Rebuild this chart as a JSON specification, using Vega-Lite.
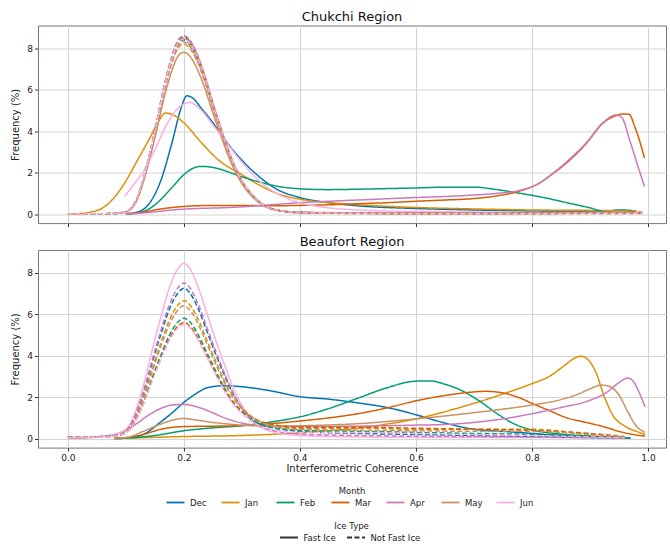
{
"$schema": "https://vega.github.io/schema/vega-lite/v6.json",
"background": "white",
"padding": {"left": 10, "right": 0, "top": 10.5, "bottom": 0},
"config": {
  "font": "DejaVu Sans",
  "view": {"stroke": "#777777", "strokeWidth": 1},
  "axis": {"grid": true, "gridColor": "#d4d4d4", "gridWidth": 1, "domain": false, "tickColor": "#333333", "tickSize": 3.5, "labelFontSize": 9, "labelColor": "#222222", "titleFontSize": 10, "titleFontWeight": "normal", "titleColor": "#222222", "labelPadding": 2},
  "title": {"fontSize": 13, "fontWeight": "normal", "offset": 1.5, "color": "#111111"},
  "concat": {"spacing": 6.5},
  "legend": {"orient": "bottom", "direction": "horizontal", "titleAnchor": "middle", "titleOrient": "top", "titleFontSize": 8.5, "titleFontWeight": "normal", "titleColor": "#222222", "labelFontSize": 8.5, "labelColor": "#222222", "symbolStrokeWidth": 1.8, "symbolType": "M-2,0L2,0", "symbolSize": 81, "labelOffset": 9, "offset": 12, "titlePadding": 2,
    "layout": {"bottom": {"anchor": "middle", "direction": "vertical", "center": true, "margin": 14}}}
},
"data": {"values": [
{"region":"Chukchi","month":"Dec","ice":"Fast Ice","coh":0.1,"freq":0.02},{"region":"Chukchi","month":"Dec","ice":"Fast Ice","coh":0.12,"freq":0.1},{"region":"Chukchi","month":"Dec","ice":"Fast Ice","coh":0.14,"freq":0.5},{"region":"Chukchi","month":"Dec","ice":"Fast Ice","coh":0.16,"freq":1.6},{"region":"Chukchi","month":"Dec","ice":"Fast Ice","coh":0.18,"freq":3.5},{"region":"Chukchi","month":"Dec","ice":"Fast Ice","coh":0.195,"freq":5.1},{"region":"Chukchi","month":"Dec","ice":"Fast Ice","coh":0.205,"freq":5.7},{"region":"Chukchi","month":"Dec","ice":"Fast Ice","coh":0.215,"freq":5.6},{"region":"Chukchi","month":"Dec","ice":"Fast Ice","coh":0.23,"freq":5.1},{"region":"Chukchi","month":"Dec","ice":"Fast Ice","coh":0.25,"freq":4.4},{"region":"Chukchi","month":"Dec","ice":"Fast Ice","coh":0.27,"freq":3.6},{"region":"Chukchi","month":"Dec","ice":"Fast Ice","coh":0.3,"freq":2.6},{"region":"Chukchi","month":"Dec","ice":"Fast Ice","coh":0.33,"freq":1.8},{"region":"Chukchi","month":"Dec","ice":"Fast Ice","coh":0.36,"freq":1.2},{"region":"Chukchi","month":"Dec","ice":"Fast Ice","coh":0.4,"freq":0.8},{"region":"Chukchi","month":"Dec","ice":"Fast Ice","coh":0.45,"freq":0.55},{"region":"Chukchi","month":"Dec","ice":"Fast Ice","coh":0.5,"freq":0.4},{"region":"Chukchi","month":"Dec","ice":"Fast Ice","coh":0.6,"freq":0.27},{"region":"Chukchi","month":"Dec","ice":"Fast Ice","coh":0.7,"freq":0.2},{"region":"Chukchi","month":"Dec","ice":"Fast Ice","coh":0.8,"freq":0.15},{"region":"Chukchi","month":"Dec","ice":"Fast Ice","coh":0.9,"freq":0.12},{"region":"Chukchi","month":"Dec","ice":"Fast Ice","coh":0.93,"freq":0.15},{"region":"Chukchi","month":"Dec","ice":"Fast Ice","coh":0.95,"freq":0.2},{"region":"Chukchi","month":"Dec","ice":"Fast Ice","coh":0.97,"freq":0.18},{"region":"Chukchi","month":"Dec","ice":"Fast Ice","coh":0.98,"freq":0.12},
{"region":"Chukchi","month":"Jan","ice":"Fast Ice","coh":0,"freq":0},{"region":"Chukchi","month":"Jan","ice":"Fast Ice","coh":0.02,"freq":0.03},{"region":"Chukchi","month":"Jan","ice":"Fast Ice","coh":0.04,"freq":0.1},{"region":"Chukchi","month":"Jan","ice":"Fast Ice","coh":0.06,"freq":0.3},{"region":"Chukchi","month":"Jan","ice":"Fast Ice","coh":0.08,"freq":0.8},{"region":"Chukchi","month":"Jan","ice":"Fast Ice","coh":0.1,"freq":1.6},{"region":"Chukchi","month":"Jan","ice":"Fast Ice","coh":0.12,"freq":2.6},{"region":"Chukchi","month":"Jan","ice":"Fast Ice","coh":0.14,"freq":3.6},{"region":"Chukchi","month":"Jan","ice":"Fast Ice","coh":0.155,"freq":4.4},{"region":"Chukchi","month":"Jan","ice":"Fast Ice","coh":0.168,"freq":4.87},{"region":"Chukchi","month":"Jan","ice":"Fast Ice","coh":0.18,"freq":4.8},{"region":"Chukchi","month":"Jan","ice":"Fast Ice","coh":0.2,"freq":4.4},{"region":"Chukchi","month":"Jan","ice":"Fast Ice","coh":0.23,"freq":3.45},{"region":"Chukchi","month":"Jan","ice":"Fast Ice","coh":0.26,"freq":2.6},{"region":"Chukchi","month":"Jan","ice":"Fast Ice","coh":0.3,"freq":1.9},{"region":"Chukchi","month":"Jan","ice":"Fast Ice","coh":0.33,"freq":1.4},{"region":"Chukchi","month":"Jan","ice":"Fast Ice","coh":0.36,"freq":1.0},{"region":"Chukchi","month":"Jan","ice":"Fast Ice","coh":0.4,"freq":0.72},{"region":"Chukchi","month":"Jan","ice":"Fast Ice","coh":0.45,"freq":0.55},{"region":"Chukchi","month":"Jan","ice":"Fast Ice","coh":0.5,"freq":0.45},{"region":"Chukchi","month":"Jan","ice":"Fast Ice","coh":0.6,"freq":0.32},{"region":"Chukchi","month":"Jan","ice":"Fast Ice","coh":0.7,"freq":0.25},{"region":"Chukchi","month":"Jan","ice":"Fast Ice","coh":0.8,"freq":0.2},{"region":"Chukchi","month":"Jan","ice":"Fast Ice","coh":0.9,"freq":0.18},{"region":"Chukchi","month":"Jan","ice":"Fast Ice","coh":0.98,"freq":0.15},
{"region":"Chukchi","month":"Feb","ice":"Fast Ice","coh":0.1,"freq":0},{"region":"Chukchi","month":"Feb","ice":"Fast Ice","coh":0.12,"freq":0.05},{"region":"Chukchi","month":"Feb","ice":"Fast Ice","coh":0.14,"freq":0.25},{"region":"Chukchi","month":"Feb","ice":"Fast Ice","coh":0.16,"freq":0.7},{"region":"Chukchi","month":"Feb","ice":"Fast Ice","coh":0.18,"freq":1.3},{"region":"Chukchi","month":"Feb","ice":"Fast Ice","coh":0.2,"freq":1.9},{"region":"Chukchi","month":"Feb","ice":"Fast Ice","coh":0.215,"freq":2.2},{"region":"Chukchi","month":"Feb","ice":"Fast Ice","coh":0.23,"freq":2.3},{"region":"Chukchi","month":"Feb","ice":"Fast Ice","coh":0.25,"freq":2.25},{"region":"Chukchi","month":"Feb","ice":"Fast Ice","coh":0.28,"freq":2.0},{"region":"Chukchi","month":"Feb","ice":"Fast Ice","coh":0.3,"freq":1.8},{"region":"Chukchi","month":"Feb","ice":"Fast Ice","coh":0.33,"freq":1.55},{"region":"Chukchi","month":"Feb","ice":"Fast Ice","coh":0.36,"freq":1.35},{"region":"Chukchi","month":"Feb","ice":"Fast Ice","coh":0.4,"freq":1.22},{"region":"Chukchi","month":"Feb","ice":"Fast Ice","coh":0.45,"freq":1.18},{"region":"Chukchi","month":"Feb","ice":"Fast Ice","coh":0.5,"freq":1.2},{"region":"Chukchi","month":"Feb","ice":"Fast Ice","coh":0.55,"freq":1.23},{"region":"Chukchi","month":"Feb","ice":"Fast Ice","coh":0.6,"freq":1.26},{"region":"Chukchi","month":"Feb","ice":"Fast Ice","coh":0.65,"freq":1.3},{"region":"Chukchi","month":"Feb","ice":"Fast Ice","coh":0.7,"freq":1.3},{"region":"Chukchi","month":"Feb","ice":"Fast Ice","coh":0.74,"freq":1.18},{"region":"Chukchi","month":"Feb","ice":"Fast Ice","coh":0.78,"freq":1.0},{"region":"Chukchi","month":"Feb","ice":"Fast Ice","coh":0.82,"freq":0.8},{"region":"Chukchi","month":"Feb","ice":"Fast Ice","coh":0.86,"freq":0.55},{"region":"Chukchi","month":"Feb","ice":"Fast Ice","coh":0.9,"freq":0.3},{"region":"Chukchi","month":"Feb","ice":"Fast Ice","coh":0.92,"freq":0.15},{"region":"Chukchi","month":"Feb","ice":"Fast Ice","coh":0.94,"freq":0.1},{"region":"Chukchi","month":"Feb","ice":"Fast Ice","coh":0.97,"freq":0.1},{"region":"Chukchi","month":"Feb","ice":"Fast Ice","coh":0.98,"freq":0.08},
{"region":"Chukchi","month":"Mar","ice":"Fast Ice","coh":0.1,"freq":0.02},{"region":"Chukchi","month":"Mar","ice":"Fast Ice","coh":0.13,"freq":0.1},{"region":"Chukchi","month":"Mar","ice":"Fast Ice","coh":0.16,"freq":0.25},{"region":"Chukchi","month":"Mar","ice":"Fast Ice","coh":0.2,"freq":0.37},{"region":"Chukchi","month":"Mar","ice":"Fast Ice","coh":0.25,"freq":0.42},{"region":"Chukchi","month":"Mar","ice":"Fast Ice","coh":0.3,"freq":0.42},{"region":"Chukchi","month":"Mar","ice":"Fast Ice","coh":0.35,"freq":0.4},{"region":"Chukchi","month":"Mar","ice":"Fast Ice","coh":0.4,"freq":0.42},{"region":"Chukchi","month":"Mar","ice":"Fast Ice","coh":0.45,"freq":0.45},{"region":"Chukchi","month":"Mar","ice":"Fast Ice","coh":0.5,"freq":0.5},{"region":"Chukchi","month":"Mar","ice":"Fast Ice","coh":0.55,"freq":0.55},{"region":"Chukchi","month":"Mar","ice":"Fast Ice","coh":0.6,"freq":0.62},{"region":"Chukchi","month":"Mar","ice":"Fast Ice","coh":0.65,"freq":0.68},{"region":"Chukchi","month":"Mar","ice":"Fast Ice","coh":0.7,"freq":0.75},{"region":"Chukchi","month":"Mar","ice":"Fast Ice","coh":0.74,"freq":0.88},{"region":"Chukchi","month":"Mar","ice":"Fast Ice","coh":0.78,"freq":1.12},{"region":"Chukchi","month":"Mar","ice":"Fast Ice","coh":0.81,"freq":1.45},{"region":"Chukchi","month":"Mar","ice":"Fast Ice","coh":0.836,"freq":1.95},{"region":"Chukchi","month":"Mar","ice":"Fast Ice","coh":0.865,"freq":2.6},{"region":"Chukchi","month":"Mar","ice":"Fast Ice","coh":0.894,"freq":3.42},{"region":"Chukchi","month":"Mar","ice":"Fast Ice","coh":0.922,"freq":4.38},{"region":"Chukchi","month":"Mar","ice":"Fast Ice","coh":0.945,"freq":4.75},{"region":"Chukchi","month":"Mar","ice":"Fast Ice","coh":0.958,"freq":4.83},{"region":"Chukchi","month":"Mar","ice":"Fast Ice","coh":0.968,"freq":4.8},{"region":"Chukchi","month":"Mar","ice":"Fast Ice","coh":0.977,"freq":4.22},{"region":"Chukchi","month":"Mar","ice":"Fast Ice","coh":0.985,"freq":3.58},{"region":"Chukchi","month":"Mar","ice":"Fast Ice","coh":0.994,"freq":2.7},
{"region":"Chukchi","month":"Apr","ice":"Fast Ice","coh":0.1,"freq":0},{"region":"Chukchi","month":"Apr","ice":"Fast Ice","coh":0.14,"freq":0.08},{"region":"Chukchi","month":"Apr","ice":"Fast Ice","coh":0.18,"freq":0.2},{"region":"Chukchi","month":"Apr","ice":"Fast Ice","coh":0.22,"freq":0.27},{"region":"Chukchi","month":"Apr","ice":"Fast Ice","coh":0.26,"freq":0.3},{"region":"Chukchi","month":"Apr","ice":"Fast Ice","coh":0.3,"freq":0.35},{"region":"Chukchi","month":"Apr","ice":"Fast Ice","coh":0.35,"freq":0.45},{"region":"Chukchi","month":"Apr","ice":"Fast Ice","coh":0.4,"freq":0.55},{"region":"Chukchi","month":"Apr","ice":"Fast Ice","coh":0.45,"freq":0.62},{"region":"Chukchi","month":"Apr","ice":"Fast Ice","coh":0.5,"freq":0.68},{"region":"Chukchi","month":"Apr","ice":"Fast Ice","coh":0.55,"freq":0.74},{"region":"Chukchi","month":"Apr","ice":"Fast Ice","coh":0.6,"freq":0.8},{"region":"Chukchi","month":"Apr","ice":"Fast Ice","coh":0.65,"freq":0.85},{"region":"Chukchi","month":"Apr","ice":"Fast Ice","coh":0.7,"freq":0.92},{"region":"Chukchi","month":"Apr","ice":"Fast Ice","coh":0.74,"freq":1.0},{"region":"Chukchi","month":"Apr","ice":"Fast Ice","coh":0.78,"freq":1.15},{"region":"Chukchi","month":"Apr","ice":"Fast Ice","coh":0.81,"freq":1.45},{"region":"Chukchi","month":"Apr","ice":"Fast Ice","coh":0.836,"freq":1.97},{"region":"Chukchi","month":"Apr","ice":"Fast Ice","coh":0.865,"freq":2.65},{"region":"Chukchi","month":"Apr","ice":"Fast Ice","coh":0.894,"freq":3.45},{"region":"Chukchi","month":"Apr","ice":"Fast Ice","coh":0.922,"freq":4.4},{"region":"Chukchi","month":"Apr","ice":"Fast Ice","coh":0.945,"freq":4.78},{"region":"Chukchi","month":"Apr","ice":"Fast Ice","coh":0.955,"freq":4.65},{"region":"Chukchi","month":"Apr","ice":"Fast Ice","coh":0.968,"freq":3.6},{"region":"Chukchi","month":"Apr","ice":"Fast Ice","coh":0.985,"freq":2.1},{"region":"Chukchi","month":"Apr","ice":"Fast Ice","coh":0.994,"freq":1.33},
{"region":"Chukchi","month":"May","ice":"Fast Ice","coh":0.08,"freq":0.03},{"region":"Chukchi","month":"May","ice":"Fast Ice","coh":0.1,"freq":0.1},{"region":"Chukchi","month":"May","ice":"Fast Ice","coh":0.12,"freq":0.73},{"region":"Chukchi","month":"May","ice":"Fast Ice","coh":0.135,"freq":2.02},{"region":"Chukchi","month":"May","ice":"Fast Ice","coh":0.15,"freq":3.67},{"region":"Chukchi","month":"May","ice":"Fast Ice","coh":0.165,"freq":5.51},{"region":"Chukchi","month":"May","ice":"Fast Ice","coh":0.18,"freq":6.98},{"region":"Chukchi","month":"May","ice":"Fast Ice","coh":0.19,"freq":7.62},{"region":"Chukchi","month":"May","ice":"Fast Ice","coh":0.2,"freq":7.8},{"region":"Chukchi","month":"May","ice":"Fast Ice","coh":0.21,"freq":7.62},{"region":"Chukchi","month":"May","ice":"Fast Ice","coh":0.22,"freq":7.16},{"region":"Chukchi","month":"May","ice":"Fast Ice","coh":0.235,"freq":6.15},{"region":"Chukchi","month":"May","ice":"Fast Ice","coh":0.25,"freq":4.87},{"region":"Chukchi","month":"May","ice":"Fast Ice","coh":0.265,"freq":3.67},{"region":"Chukchi","month":"May","ice":"Fast Ice","coh":0.28,"freq":2.57},{"region":"Chukchi","month":"May","ice":"Fast Ice","coh":0.3,"freq":1.47},{"region":"Chukchi","month":"May","ice":"Fast Ice","coh":0.32,"freq":0.78},{"region":"Chukchi","month":"May","ice":"Fast Ice","coh":0.34,"freq":0.37},{"region":"Chukchi","month":"May","ice":"Fast Ice","coh":0.37,"freq":0.15},{"region":"Chukchi","month":"May","ice":"Fast Ice","coh":0.4,"freq":0.1},{"region":"Chukchi","month":"May","ice":"Fast Ice","coh":0.5,"freq":0.06},{"region":"Chukchi","month":"May","ice":"Fast Ice","coh":0.6,"freq":0.05},{"region":"Chukchi","month":"May","ice":"Fast Ice","coh":0.7,"freq":0.05},{"region":"Chukchi","month":"May","ice":"Fast Ice","coh":0.8,"freq":0.05},{"region":"Chukchi","month":"May","ice":"Fast Ice","coh":0.9,"freq":0.05},{"region":"Chukchi","month":"May","ice":"Fast Ice","coh":0.98,"freq":0.05},
{"region":"Chukchi","month":"Jun","ice":"Fast Ice","coh":0.098,"freq":0.85},{"region":"Chukchi","month":"Jun","ice":"Fast Ice","coh":0.11,"freq":1.3},{"region":"Chukchi","month":"Jun","ice":"Fast Ice","coh":0.13,"freq":2.05},{"region":"Chukchi","month":"Jun","ice":"Fast Ice","coh":0.15,"freq":3.1},{"region":"Chukchi","month":"Jun","ice":"Fast Ice","coh":0.17,"freq":4.3},{"region":"Chukchi","month":"Jun","ice":"Fast Ice","coh":0.19,"freq":5.1},{"region":"Chukchi","month":"Jun","ice":"Fast Ice","coh":0.21,"freq":5.38},{"region":"Chukchi","month":"Jun","ice":"Fast Ice","coh":0.23,"freq":5.0},{"region":"Chukchi","month":"Jun","ice":"Fast Ice","coh":0.25,"freq":4.3},{"region":"Chukchi","month":"Jun","ice":"Fast Ice","coh":0.28,"freq":3.2},{"region":"Chukchi","month":"Jun","ice":"Fast Ice","coh":0.3,"freq":2.5},{"region":"Chukchi","month":"Jun","ice":"Fast Ice","coh":0.33,"freq":1.6},{"region":"Chukchi","month":"Jun","ice":"Fast Ice","coh":0.36,"freq":1.0},{"region":"Chukchi","month":"Jun","ice":"Fast Ice","coh":0.4,"freq":0.55},{"region":"Chukchi","month":"Jun","ice":"Fast Ice","coh":0.45,"freq":0.3},{"region":"Chukchi","month":"Jun","ice":"Fast Ice","coh":0.5,"freq":0.2},{"region":"Chukchi","month":"Jun","ice":"Fast Ice","coh":0.6,"freq":0.13},{"region":"Chukchi","month":"Jun","ice":"Fast Ice","coh":0.7,"freq":0.1},{"region":"Chukchi","month":"Jun","ice":"Fast Ice","coh":0.8,"freq":0.08},{"region":"Chukchi","month":"Jun","ice":"Fast Ice","coh":0.9,"freq":0.08},{"region":"Chukchi","month":"Jun","ice":"Fast Ice","coh":0.96,"freq":0.08},
{"region":"Chukchi","month":"Dec","ice":"Not Fast Ice","coh":0,"freq":0.01},{"region":"Chukchi","month":"Dec","ice":"Not Fast Ice","coh":0.05,"freq":0.02},{"region":"Chukchi","month":"Dec","ice":"Not Fast Ice","coh":0.08,"freq":0.03},{"region":"Chukchi","month":"Dec","ice":"Not Fast Ice","coh":0.1,"freq":0.12},{"region":"Chukchi","month":"Dec","ice":"Not Fast Ice","coh":0.12,"freq":0.79},{"region":"Chukchi","month":"Dec","ice":"Not Fast Ice","coh":0.135,"freq":2.17},{"region":"Chukchi","month":"Dec","ice":"Not Fast Ice","coh":0.15,"freq":3.95},{"region":"Chukchi","month":"Dec","ice":"Not Fast Ice","coh":0.165,"freq":5.93},{"region":"Chukchi","month":"Dec","ice":"Not Fast Ice","coh":0.18,"freq":7.51},{"region":"Chukchi","month":"Dec","ice":"Not Fast Ice","coh":0.19,"freq":8.2},{"region":"Chukchi","month":"Dec","ice":"Not Fast Ice","coh":0.2,"freq":8.4},{"region":"Chukchi","month":"Dec","ice":"Not Fast Ice","coh":0.21,"freq":8.2},{"region":"Chukchi","month":"Dec","ice":"Not Fast Ice","coh":0.22,"freq":7.71},{"region":"Chukchi","month":"Dec","ice":"Not Fast Ice","coh":0.235,"freq":6.62},{"region":"Chukchi","month":"Dec","ice":"Not Fast Ice","coh":0.25,"freq":5.24},{"region":"Chukchi","month":"Dec","ice":"Not Fast Ice","coh":0.265,"freq":3.95},{"region":"Chukchi","month":"Dec","ice":"Not Fast Ice","coh":0.28,"freq":2.77},{"region":"Chukchi","month":"Dec","ice":"Not Fast Ice","coh":0.3,"freq":1.58},{"region":"Chukchi","month":"Dec","ice":"Not Fast Ice","coh":0.32,"freq":0.84},{"region":"Chukchi","month":"Dec","ice":"Not Fast Ice","coh":0.34,"freq":0.4},{"region":"Chukchi","month":"Dec","ice":"Not Fast Ice","coh":0.37,"freq":0.15},{"region":"Chukchi","month":"Dec","ice":"Not Fast Ice","coh":0.4,"freq":0.08},{"region":"Chukchi","month":"Dec","ice":"Not Fast Ice","coh":0.5,"freq":0.05},{"region":"Chukchi","month":"Dec","ice":"Not Fast Ice","coh":0.6,"freq":0.04},{"region":"Chukchi","month":"Dec","ice":"Not Fast Ice","coh":0.7,"freq":0.04},{"region":"Chukchi","month":"Dec","ice":"Not Fast Ice","coh":0.8,"freq":0.05},{"region":"Chukchi","month":"Dec","ice":"Not Fast Ice","coh":0.9,"freq":0.06},{"region":"Chukchi","month":"Dec","ice":"Not Fast Ice","coh":0.99,"freq":0.06},
{"region":"Chukchi","month":"Jan","ice":"Not Fast Ice","coh":0,"freq":0.01},{"region":"Chukchi","month":"Jan","ice":"Not Fast Ice","coh":0.05,"freq":0.02},{"region":"Chukchi","month":"Jan","ice":"Not Fast Ice","coh":0.08,"freq":0.03},{"region":"Chukchi","month":"Jan","ice":"Not Fast Ice","coh":0.1,"freq":0.12},{"region":"Chukchi","month":"Jan","ice":"Not Fast Ice","coh":0.12,"freq":0.78},{"region":"Chukchi","month":"Jan","ice":"Not Fast Ice","coh":0.135,"freq":2.15},{"region":"Chukchi","month":"Jan","ice":"Not Fast Ice","coh":0.15,"freq":3.9},{"region":"Chukchi","month":"Jan","ice":"Not Fast Ice","coh":0.165,"freq":5.86},{"region":"Chukchi","month":"Jan","ice":"Not Fast Ice","coh":0.18,"freq":7.42},{"region":"Chukchi","month":"Jan","ice":"Not Fast Ice","coh":0.19,"freq":8.1},{"region":"Chukchi","month":"Jan","ice":"Not Fast Ice","coh":0.2,"freq":8.3},{"region":"Chukchi","month":"Jan","ice":"Not Fast Ice","coh":0.21,"freq":8.1},{"region":"Chukchi","month":"Jan","ice":"Not Fast Ice","coh":0.22,"freq":7.61},{"region":"Chukchi","month":"Jan","ice":"Not Fast Ice","coh":0.235,"freq":6.54},{"region":"Chukchi","month":"Jan","ice":"Not Fast Ice","coh":0.25,"freq":5.17},{"region":"Chukchi","month":"Jan","ice":"Not Fast Ice","coh":0.265,"freq":3.9},{"region":"Chukchi","month":"Jan","ice":"Not Fast Ice","coh":0.28,"freq":2.73},{"region":"Chukchi","month":"Jan","ice":"Not Fast Ice","coh":0.3,"freq":1.56},{"region":"Chukchi","month":"Jan","ice":"Not Fast Ice","coh":0.32,"freq":0.83},{"region":"Chukchi","month":"Jan","ice":"Not Fast Ice","coh":0.34,"freq":0.39},{"region":"Chukchi","month":"Jan","ice":"Not Fast Ice","coh":0.37,"freq":0.15},{"region":"Chukchi","month":"Jan","ice":"Not Fast Ice","coh":0.4,"freq":0.08},{"region":"Chukchi","month":"Jan","ice":"Not Fast Ice","coh":0.5,"freq":0.06},{"region":"Chukchi","month":"Jan","ice":"Not Fast Ice","coh":0.6,"freq":0.05},{"region":"Chukchi","month":"Jan","ice":"Not Fast Ice","coh":0.7,"freq":0.05},{"region":"Chukchi","month":"Jan","ice":"Not Fast Ice","coh":0.8,"freq":0.06},{"region":"Chukchi","month":"Jan","ice":"Not Fast Ice","coh":0.9,"freq":0.08},{"region":"Chukchi","month":"Jan","ice":"Not Fast Ice","coh":0.99,"freq":0.1},
{"region":"Chukchi","month":"Feb","ice":"Not Fast Ice","coh":0,"freq":0.01},{"region":"Chukchi","month":"Feb","ice":"Not Fast Ice","coh":0.05,"freq":0.02},{"region":"Chukchi","month":"Feb","ice":"Not Fast Ice","coh":0.08,"freq":0.03},{"region":"Chukchi","month":"Feb","ice":"Not Fast Ice","coh":0.1,"freq":0.12},{"region":"Chukchi","month":"Feb","ice":"Not Fast Ice","coh":0.12,"freq":0.8},{"region":"Chukchi","month":"Feb","ice":"Not Fast Ice","coh":0.135,"freq":2.2},{"region":"Chukchi","month":"Feb","ice":"Not Fast Ice","coh":0.15,"freq":4.0},{"region":"Chukchi","month":"Feb","ice":"Not Fast Ice","coh":0.165,"freq":6.0},{"region":"Chukchi","month":"Feb","ice":"Not Fast Ice","coh":0.18,"freq":7.6},{"region":"Chukchi","month":"Feb","ice":"Not Fast Ice","coh":0.19,"freq":8.3},{"region":"Chukchi","month":"Feb","ice":"Not Fast Ice","coh":0.2,"freq":8.5},{"region":"Chukchi","month":"Feb","ice":"Not Fast Ice","coh":0.21,"freq":8.3},{"region":"Chukchi","month":"Feb","ice":"Not Fast Ice","coh":0.22,"freq":7.8},{"region":"Chukchi","month":"Feb","ice":"Not Fast Ice","coh":0.235,"freq":6.7},{"region":"Chukchi","month":"Feb","ice":"Not Fast Ice","coh":0.25,"freq":5.3},{"region":"Chukchi","month":"Feb","ice":"Not Fast Ice","coh":0.265,"freq":4.0},{"region":"Chukchi","month":"Feb","ice":"Not Fast Ice","coh":0.28,"freq":2.8},{"region":"Chukchi","month":"Feb","ice":"Not Fast Ice","coh":0.3,"freq":1.6},{"region":"Chukchi","month":"Feb","ice":"Not Fast Ice","coh":0.32,"freq":0.85},{"region":"Chukchi","month":"Feb","ice":"Not Fast Ice","coh":0.34,"freq":0.4},{"region":"Chukchi","month":"Feb","ice":"Not Fast Ice","coh":0.37,"freq":0.15},{"region":"Chukchi","month":"Feb","ice":"Not Fast Ice","coh":0.4,"freq":0.08},{"region":"Chukchi","month":"Feb","ice":"Not Fast Ice","coh":0.5,"freq":0.04},{"region":"Chukchi","month":"Feb","ice":"Not Fast Ice","coh":0.6,"freq":0.03},{"region":"Chukchi","month":"Feb","ice":"Not Fast Ice","coh":0.7,"freq":0.03},{"region":"Chukchi","month":"Feb","ice":"Not Fast Ice","coh":0.8,"freq":0.04},{"region":"Chukchi","month":"Feb","ice":"Not Fast Ice","coh":0.9,"freq":0.05},{"region":"Chukchi","month":"Feb","ice":"Not Fast Ice","coh":0.99,"freq":0.05},
{"region":"Chukchi","month":"Mar","ice":"Not Fast Ice","coh":0,"freq":0.01},{"region":"Chukchi","month":"Mar","ice":"Not Fast Ice","coh":0.05,"freq":0.02},{"region":"Chukchi","month":"Mar","ice":"Not Fast Ice","coh":0.08,"freq":0.03},{"region":"Chukchi","month":"Mar","ice":"Not Fast Ice","coh":0.1,"freq":0.12},{"region":"Chukchi","month":"Mar","ice":"Not Fast Ice","coh":0.12,"freq":0.81},{"region":"Chukchi","month":"Mar","ice":"Not Fast Ice","coh":0.135,"freq":2.21},{"region":"Chukchi","month":"Mar","ice":"Not Fast Ice","coh":0.15,"freq":4.02},{"region":"Chukchi","month":"Mar","ice":"Not Fast Ice","coh":0.165,"freq":6.04},{"region":"Chukchi","month":"Mar","ice":"Not Fast Ice","coh":0.18,"freq":7.65},{"region":"Chukchi","month":"Mar","ice":"Not Fast Ice","coh":0.19,"freq":8.35},{"region":"Chukchi","month":"Mar","ice":"Not Fast Ice","coh":0.2,"freq":8.55},{"region":"Chukchi","month":"Mar","ice":"Not Fast Ice","coh":0.21,"freq":8.35},{"region":"Chukchi","month":"Mar","ice":"Not Fast Ice","coh":0.22,"freq":7.85},{"region":"Chukchi","month":"Mar","ice":"Not Fast Ice","coh":0.235,"freq":6.74},{"region":"Chukchi","month":"Mar","ice":"Not Fast Ice","coh":0.25,"freq":5.33},{"region":"Chukchi","month":"Mar","ice":"Not Fast Ice","coh":0.265,"freq":4.02},{"region":"Chukchi","month":"Mar","ice":"Not Fast Ice","coh":0.28,"freq":2.82},{"region":"Chukchi","month":"Mar","ice":"Not Fast Ice","coh":0.3,"freq":1.61},{"region":"Chukchi","month":"Mar","ice":"Not Fast Ice","coh":0.32,"freq":0.86},{"region":"Chukchi","month":"Mar","ice":"Not Fast Ice","coh":0.34,"freq":0.4},{"region":"Chukchi","month":"Mar","ice":"Not Fast Ice","coh":0.37,"freq":0.14},{"region":"Chukchi","month":"Mar","ice":"Not Fast Ice","coh":0.4,"freq":0.07},{"region":"Chukchi","month":"Mar","ice":"Not Fast Ice","coh":0.5,"freq":0.03},{"region":"Chukchi","month":"Mar","ice":"Not Fast Ice","coh":0.6,"freq":0.02},{"region":"Chukchi","month":"Mar","ice":"Not Fast Ice","coh":0.7,"freq":0.02},{"region":"Chukchi","month":"Mar","ice":"Not Fast Ice","coh":0.8,"freq":0.02},{"region":"Chukchi","month":"Mar","ice":"Not Fast Ice","coh":0.9,"freq":0.03},{"region":"Chukchi","month":"Mar","ice":"Not Fast Ice","coh":0.99,"freq":0.03},
{"region":"Chukchi","month":"Apr","ice":"Not Fast Ice","coh":0,"freq":0.01},{"region":"Chukchi","month":"Apr","ice":"Not Fast Ice","coh":0.05,"freq":0.02},{"region":"Chukchi","month":"Apr","ice":"Not Fast Ice","coh":0.08,"freq":0.03},{"region":"Chukchi","month":"Apr","ice":"Not Fast Ice","coh":0.1,"freq":0.12},{"region":"Chukchi","month":"Apr","ice":"Not Fast Ice","coh":0.12,"freq":0.81},{"region":"Chukchi","month":"Apr","ice":"Not Fast Ice","coh":0.135,"freq":2.23},{"region":"Chukchi","month":"Apr","ice":"Not Fast Ice","coh":0.15,"freq":4.05},{"region":"Chukchi","month":"Apr","ice":"Not Fast Ice","coh":0.165,"freq":6.07},{"region":"Chukchi","month":"Apr","ice":"Not Fast Ice","coh":0.18,"freq":7.69},{"region":"Chukchi","month":"Apr","ice":"Not Fast Ice","coh":0.19,"freq":8.4},{"region":"Chukchi","month":"Apr","ice":"Not Fast Ice","coh":0.2,"freq":8.6},{"region":"Chukchi","month":"Apr","ice":"Not Fast Ice","coh":0.21,"freq":8.4},{"region":"Chukchi","month":"Apr","ice":"Not Fast Ice","coh":0.22,"freq":7.89},{"region":"Chukchi","month":"Apr","ice":"Not Fast Ice","coh":0.235,"freq":6.78},{"region":"Chukchi","month":"Apr","ice":"Not Fast Ice","coh":0.25,"freq":5.36},{"region":"Chukchi","month":"Apr","ice":"Not Fast Ice","coh":0.265,"freq":4.05},{"region":"Chukchi","month":"Apr","ice":"Not Fast Ice","coh":0.28,"freq":2.83},{"region":"Chukchi","month":"Apr","ice":"Not Fast Ice","coh":0.3,"freq":1.62},{"region":"Chukchi","month":"Apr","ice":"Not Fast Ice","coh":0.32,"freq":0.86},{"region":"Chukchi","month":"Apr","ice":"Not Fast Ice","coh":0.34,"freq":0.4},{"region":"Chukchi","month":"Apr","ice":"Not Fast Ice","coh":0.37,"freq":0.14},{"region":"Chukchi","month":"Apr","ice":"Not Fast Ice","coh":0.4,"freq":0.07},{"region":"Chukchi","month":"Apr","ice":"Not Fast Ice","coh":0.5,"freq":0.04},{"region":"Chukchi","month":"Apr","ice":"Not Fast Ice","coh":0.6,"freq":0.03},{"region":"Chukchi","month":"Apr","ice":"Not Fast Ice","coh":0.7,"freq":0.03},{"region":"Chukchi","month":"Apr","ice":"Not Fast Ice","coh":0.8,"freq":0.03},{"region":"Chukchi","month":"Apr","ice":"Not Fast Ice","coh":0.9,"freq":0.04},{"region":"Chukchi","month":"Apr","ice":"Not Fast Ice","coh":0.99,"freq":0.04},
{"region":"Chukchi","month":"May","ice":"Not Fast Ice","coh":0,"freq":0.01},{"region":"Chukchi","month":"May","ice":"Not Fast Ice","coh":0.05,"freq":0.02},{"region":"Chukchi","month":"May","ice":"Not Fast Ice","coh":0.08,"freq":0.03},{"region":"Chukchi","month":"May","ice":"Not Fast Ice","coh":0.1,"freq":0.12},{"region":"Chukchi","month":"May","ice":"Not Fast Ice","coh":0.12,"freq":0.77},{"region":"Chukchi","month":"May","ice":"Not Fast Ice","coh":0.135,"freq":2.12},{"region":"Chukchi","month":"May","ice":"Not Fast Ice","coh":0.15,"freq":3.86},{"region":"Chukchi","month":"May","ice":"Not Fast Ice","coh":0.165,"freq":5.79},{"region":"Chukchi","month":"May","ice":"Not Fast Ice","coh":0.18,"freq":7.33},{"region":"Chukchi","month":"May","ice":"Not Fast Ice","coh":0.19,"freq":8.0},{"region":"Chukchi","month":"May","ice":"Not Fast Ice","coh":0.2,"freq":8.2},{"region":"Chukchi","month":"May","ice":"Not Fast Ice","coh":0.21,"freq":8.0},{"region":"Chukchi","month":"May","ice":"Not Fast Ice","coh":0.22,"freq":7.53},{"region":"Chukchi","month":"May","ice":"Not Fast Ice","coh":0.235,"freq":6.47},{"region":"Chukchi","month":"May","ice":"Not Fast Ice","coh":0.25,"freq":5.11},{"region":"Chukchi","month":"May","ice":"Not Fast Ice","coh":0.265,"freq":3.86},{"region":"Chukchi","month":"May","ice":"Not Fast Ice","coh":0.28,"freq":2.7},{"region":"Chukchi","month":"May","ice":"Not Fast Ice","coh":0.3,"freq":1.54},{"region":"Chukchi","month":"May","ice":"Not Fast Ice","coh":0.32,"freq":0.82},{"region":"Chukchi","month":"May","ice":"Not Fast Ice","coh":0.34,"freq":0.39},{"region":"Chukchi","month":"May","ice":"Not Fast Ice","coh":0.37,"freq":0.15},{"region":"Chukchi","month":"May","ice":"Not Fast Ice","coh":0.4,"freq":0.08},{"region":"Chukchi","month":"May","ice":"Not Fast Ice","coh":0.5,"freq":0.05},{"region":"Chukchi","month":"May","ice":"Not Fast Ice","coh":0.6,"freq":0.05},{"region":"Chukchi","month":"May","ice":"Not Fast Ice","coh":0.7,"freq":0.05},{"region":"Chukchi","month":"May","ice":"Not Fast Ice","coh":0.8,"freq":0.06},{"region":"Chukchi","month":"May","ice":"Not Fast Ice","coh":0.9,"freq":0.07},{"region":"Chukchi","month":"May","ice":"Not Fast Ice","coh":0.99,"freq":0.08},
{"region":"Chukchi","month":"Jun","ice":"Not Fast Ice","coh":0,"freq":0.01},{"region":"Chukchi","month":"Jun","ice":"Not Fast Ice","coh":0.05,"freq":0.02},{"region":"Chukchi","month":"Jun","ice":"Not Fast Ice","coh":0.08,"freq":0.03},{"region":"Chukchi","month":"Jun","ice":"Not Fast Ice","coh":0.1,"freq":0.12},{"region":"Chukchi","month":"Jun","ice":"Not Fast Ice","coh":0.12,"freq":0.8},{"region":"Chukchi","month":"Jun","ice":"Not Fast Ice","coh":0.135,"freq":2.19},{"region":"Chukchi","month":"Jun","ice":"Not Fast Ice","coh":0.15,"freq":3.98},{"region":"Chukchi","month":"Jun","ice":"Not Fast Ice","coh":0.165,"freq":5.97},{"region":"Chukchi","month":"Jun","ice":"Not Fast Ice","coh":0.18,"freq":7.56},{"region":"Chukchi","month":"Jun","ice":"Not Fast Ice","coh":0.19,"freq":8.25},{"region":"Chukchi","month":"Jun","ice":"Not Fast Ice","coh":0.2,"freq":8.45},{"region":"Chukchi","month":"Jun","ice":"Not Fast Ice","coh":0.21,"freq":8.25},{"region":"Chukchi","month":"Jun","ice":"Not Fast Ice","coh":0.22,"freq":7.76},{"region":"Chukchi","month":"Jun","ice":"Not Fast Ice","coh":0.235,"freq":6.66},{"region":"Chukchi","month":"Jun","ice":"Not Fast Ice","coh":0.25,"freq":5.27},{"region":"Chukchi","month":"Jun","ice":"Not Fast Ice","coh":0.265,"freq":3.98},{"region":"Chukchi","month":"Jun","ice":"Not Fast Ice","coh":0.28,"freq":2.79},{"region":"Chukchi","month":"Jun","ice":"Not Fast Ice","coh":0.3,"freq":1.59},{"region":"Chukchi","month":"Jun","ice":"Not Fast Ice","coh":0.32,"freq":0.85},{"region":"Chukchi","month":"Jun","ice":"Not Fast Ice","coh":0.34,"freq":0.4},{"region":"Chukchi","month":"Jun","ice":"Not Fast Ice","coh":0.37,"freq":0.15},{"region":"Chukchi","month":"Jun","ice":"Not Fast Ice","coh":0.4,"freq":0.08},{"region":"Chukchi","month":"Jun","ice":"Not Fast Ice","coh":0.5,"freq":0.04},{"region":"Chukchi","month":"Jun","ice":"Not Fast Ice","coh":0.6,"freq":0.03},{"region":"Chukchi","month":"Jun","ice":"Not Fast Ice","coh":0.7,"freq":0.03},{"region":"Chukchi","month":"Jun","ice":"Not Fast Ice","coh":0.8,"freq":0.03},{"region":"Chukchi","month":"Jun","ice":"Not Fast Ice","coh":0.9,"freq":0.04},{"region":"Chukchi","month":"Jun","ice":"Not Fast Ice","coh":0.99,"freq":0.04},
{"region":"Beaufort","month":"Dec","ice":"Fast Ice","coh":0.08,"freq":0},{"region":"Beaufort","month":"Dec","ice":"Fast Ice","coh":0.1,"freq":0.02},{"region":"Beaufort","month":"Dec","ice":"Fast Ice","coh":0.13,"freq":0.2},{"region":"Beaufort","month":"Dec","ice":"Fast Ice","coh":0.16,"freq":0.8},{"region":"Beaufort","month":"Dec","ice":"Fast Ice","coh":0.18,"freq":1.25},{"region":"Beaufort","month":"Dec","ice":"Fast Ice","coh":0.2,"freq":1.75},{"region":"Beaufort","month":"Dec","ice":"Fast Ice","coh":0.22,"freq":2.15},{"region":"Beaufort","month":"Dec","ice":"Fast Ice","coh":0.24,"freq":2.45},{"region":"Beaufort","month":"Dec","ice":"Fast Ice","coh":0.27,"freq":2.55},{"region":"Beaufort","month":"Dec","ice":"Fast Ice","coh":0.3,"freq":2.5},{"region":"Beaufort","month":"Dec","ice":"Fast Ice","coh":0.35,"freq":2.3},{"region":"Beaufort","month":"Dec","ice":"Fast Ice","coh":0.4,"freq":2.02},{"region":"Beaufort","month":"Dec","ice":"Fast Ice","coh":0.45,"freq":1.9},{"region":"Beaufort","month":"Dec","ice":"Fast Ice","coh":0.5,"freq":1.72},{"region":"Beaufort","month":"Dec","ice":"Fast Ice","coh":0.55,"freq":1.5},{"region":"Beaufort","month":"Dec","ice":"Fast Ice","coh":0.6,"freq":1.15},{"region":"Beaufort","month":"Dec","ice":"Fast Ice","coh":0.65,"freq":0.75},{"region":"Beaufort","month":"Dec","ice":"Fast Ice","coh":0.7,"freq":0.45},{"region":"Beaufort","month":"Dec","ice":"Fast Ice","coh":0.75,"freq":0.35},{"region":"Beaufort","month":"Dec","ice":"Fast Ice","coh":0.8,"freq":0.25},{"region":"Beaufort","month":"Dec","ice":"Fast Ice","coh":0.85,"freq":0.15},{"region":"Beaufort","month":"Dec","ice":"Fast Ice","coh":0.9,"freq":0.1},{"region":"Beaufort","month":"Dec","ice":"Fast Ice","coh":0.95,"freq":0.05},{"region":"Beaufort","month":"Dec","ice":"Fast Ice","coh":0.97,"freq":0.02},
{"region":"Beaufort","month":"Jan","ice":"Fast Ice","coh":0.1,"freq":0.02},{"region":"Beaufort","month":"Jan","ice":"Fast Ice","coh":0.2,"freq":0.1},{"region":"Beaufort","month":"Jan","ice":"Fast Ice","coh":0.3,"freq":0.15},{"region":"Beaufort","month":"Jan","ice":"Fast Ice","coh":0.4,"freq":0.28},{"region":"Beaufort","month":"Jan","ice":"Fast Ice","coh":0.45,"freq":0.38},{"region":"Beaufort","month":"Jan","ice":"Fast Ice","coh":0.5,"freq":0.5},{"region":"Beaufort","month":"Jan","ice":"Fast Ice","coh":0.55,"freq":0.7},{"region":"Beaufort","month":"Jan","ice":"Fast Ice","coh":0.6,"freq":0.95},{"region":"Beaufort","month":"Jan","ice":"Fast Ice","coh":0.65,"freq":1.3},{"region":"Beaufort","month":"Jan","ice":"Fast Ice","coh":0.7,"freq":1.7},{"region":"Beaufort","month":"Jan","ice":"Fast Ice","coh":0.75,"freq":2.15},{"region":"Beaufort","month":"Jan","ice":"Fast Ice","coh":0.8,"freq":2.65},{"region":"Beaufort","month":"Jan","ice":"Fast Ice","coh":0.83,"freq":3.0},{"region":"Beaufort","month":"Jan","ice":"Fast Ice","coh":0.855,"freq":3.5},{"region":"Beaufort","month":"Jan","ice":"Fast Ice","coh":0.875,"freq":3.9},{"region":"Beaufort","month":"Jan","ice":"Fast Ice","coh":0.885,"freq":3.97},{"region":"Beaufort","month":"Jan","ice":"Fast Ice","coh":0.895,"freq":3.85},{"region":"Beaufort","month":"Jan","ice":"Fast Ice","coh":0.91,"freq":3.2},{"region":"Beaufort","month":"Jan","ice":"Fast Ice","coh":0.925,"freq":2.0},{"region":"Beaufort","month":"Jan","ice":"Fast Ice","coh":0.94,"freq":1.1},{"region":"Beaufort","month":"Jan","ice":"Fast Ice","coh":0.96,"freq":0.6},{"region":"Beaufort","month":"Jan","ice":"Fast Ice","coh":0.98,"freq":0.35},{"region":"Beaufort","month":"Jan","ice":"Fast Ice","coh":0.995,"freq":0.2},
{"region":"Beaufort","month":"Feb","ice":"Fast Ice","coh":0.08,"freq":0},{"region":"Beaufort","month":"Feb","ice":"Fast Ice","coh":0.1,"freq":0.02},{"region":"Beaufort","month":"Feb","ice":"Fast Ice","coh":0.15,"freq":0.15},{"region":"Beaufort","month":"Feb","ice":"Fast Ice","coh":0.2,"freq":0.38},{"region":"Beaufort","month":"Feb","ice":"Fast Ice","coh":0.25,"freq":0.52},{"region":"Beaufort","month":"Feb","ice":"Fast Ice","coh":0.3,"freq":0.62},{"region":"Beaufort","month":"Feb","ice":"Fast Ice","coh":0.35,"freq":0.8},{"region":"Beaufort","month":"Feb","ice":"Fast Ice","coh":0.4,"freq":1.05},{"region":"Beaufort","month":"Feb","ice":"Fast Ice","coh":0.45,"freq":1.45},{"region":"Beaufort","month":"Feb","ice":"Fast Ice","coh":0.5,"freq":1.95},{"region":"Beaufort","month":"Feb","ice":"Fast Ice","coh":0.55,"freq":2.45},{"region":"Beaufort","month":"Feb","ice":"Fast Ice","coh":0.6,"freq":2.77},{"region":"Beaufort","month":"Feb","ice":"Fast Ice","coh":0.625,"freq":2.78},{"region":"Beaufort","month":"Feb","ice":"Fast Ice","coh":0.65,"freq":2.62},{"region":"Beaufort","month":"Feb","ice":"Fast Ice","coh":0.68,"freq":2.3},{"region":"Beaufort","month":"Feb","ice":"Fast Ice","coh":0.71,"freq":1.8},{"region":"Beaufort","month":"Feb","ice":"Fast Ice","coh":0.74,"freq":1.2},{"region":"Beaufort","month":"Feb","ice":"Fast Ice","coh":0.77,"freq":0.7},{"region":"Beaufort","month":"Feb","ice":"Fast Ice","coh":0.8,"freq":0.42},{"region":"Beaufort","month":"Feb","ice":"Fast Ice","coh":0.85,"freq":0.22},{"region":"Beaufort","month":"Feb","ice":"Fast Ice","coh":0.9,"freq":0.12},{"region":"Beaufort","month":"Feb","ice":"Fast Ice","coh":0.95,"freq":0.05},{"region":"Beaufort","month":"Feb","ice":"Fast Ice","coh":0.97,"freq":0.02},
{"region":"Beaufort","month":"Mar","ice":"Fast Ice","coh":0.08,"freq":0.01},{"region":"Beaufort","month":"Mar","ice":"Fast Ice","coh":0.1,"freq":0.05},{"region":"Beaufort","month":"Mar","ice":"Fast Ice","coh":0.13,"freq":0.2},{"region":"Beaufort","month":"Mar","ice":"Fast Ice","coh":0.16,"freq":0.45},{"region":"Beaufort","month":"Mar","ice":"Fast Ice","coh":0.2,"freq":0.58},{"region":"Beaufort","month":"Mar","ice":"Fast Ice","coh":0.25,"freq":0.6},{"region":"Beaufort","month":"Mar","ice":"Fast Ice","coh":0.3,"freq":0.63},{"region":"Beaufort","month":"Mar","ice":"Fast Ice","coh":0.35,"freq":0.72},{"region":"Beaufort","month":"Mar","ice":"Fast Ice","coh":0.4,"freq":0.85},{"region":"Beaufort","month":"Mar","ice":"Fast Ice","coh":0.45,"freq":1.0},{"region":"Beaufort","month":"Mar","ice":"Fast Ice","coh":0.5,"freq":1.2},{"region":"Beaufort","month":"Mar","ice":"Fast Ice","coh":0.55,"freq":1.48},{"region":"Beaufort","month":"Mar","ice":"Fast Ice","coh":0.6,"freq":1.82},{"region":"Beaufort","month":"Mar","ice":"Fast Ice","coh":0.65,"freq":2.08},{"region":"Beaufort","month":"Mar","ice":"Fast Ice","coh":0.7,"freq":2.25},{"region":"Beaufort","month":"Mar","ice":"Fast Ice","coh":0.72,"freq":2.28},{"region":"Beaufort","month":"Mar","ice":"Fast Ice","coh":0.75,"freq":2.2},{"region":"Beaufort","month":"Mar","ice":"Fast Ice","coh":0.78,"freq":1.95},{"region":"Beaufort","month":"Mar","ice":"Fast Ice","coh":0.8,"freq":1.7},{"region":"Beaufort","month":"Mar","ice":"Fast Ice","coh":0.83,"freq":1.35},{"region":"Beaufort","month":"Mar","ice":"Fast Ice","coh":0.86,"freq":1.0},{"region":"Beaufort","month":"Mar","ice":"Fast Ice","coh":0.89,"freq":0.8},{"region":"Beaufort","month":"Mar","ice":"Fast Ice","coh":0.92,"freq":0.6},{"region":"Beaufort","month":"Mar","ice":"Fast Ice","coh":0.95,"freq":0.35},{"region":"Beaufort","month":"Mar","ice":"Fast Ice","coh":0.97,"freq":0.22},{"region":"Beaufort","month":"Mar","ice":"Fast Ice","coh":0.995,"freq":0.12},
{"region":"Beaufort","month":"Apr","ice":"Fast Ice","coh":0,"freq":0.02},{"region":"Beaufort","month":"Apr","ice":"Fast Ice","coh":0.05,"freq":0.08},{"region":"Beaufort","month":"Apr","ice":"Fast Ice","coh":0.08,"freq":0.2},{"region":"Beaufort","month":"Apr","ice":"Fast Ice","coh":0.1,"freq":0.4},{"region":"Beaufort","month":"Apr","ice":"Fast Ice","coh":0.12,"freq":0.75},{"region":"Beaufort","month":"Apr","ice":"Fast Ice","coh":0.14,"freq":1.15},{"region":"Beaufort","month":"Apr","ice":"Fast Ice","coh":0.16,"freq":1.45},{"region":"Beaufort","month":"Apr","ice":"Fast Ice","coh":0.18,"freq":1.62},{"region":"Beaufort","month":"Apr","ice":"Fast Ice","coh":0.2,"freq":1.65},{"region":"Beaufort","month":"Apr","ice":"Fast Ice","coh":0.22,"freq":1.55},{"region":"Beaufort","month":"Apr","ice":"Fast Ice","coh":0.245,"freq":1.3},{"region":"Beaufort","month":"Apr","ice":"Fast Ice","coh":0.27,"freq":1.0},{"region":"Beaufort","month":"Apr","ice":"Fast Ice","coh":0.3,"freq":0.75},{"region":"Beaufort","month":"Apr","ice":"Fast Ice","coh":0.35,"freq":0.6},{"region":"Beaufort","month":"Apr","ice":"Fast Ice","coh":0.4,"freq":0.58},{"region":"Beaufort","month":"Apr","ice":"Fast Ice","coh":0.5,"freq":0.6},{"region":"Beaufort","month":"Apr","ice":"Fast Ice","coh":0.6,"freq":0.65},{"region":"Beaufort","month":"Apr","ice":"Fast Ice","coh":0.65,"freq":0.68},{"region":"Beaufort","month":"Apr","ice":"Fast Ice","coh":0.7,"freq":0.78},{"region":"Beaufort","month":"Apr","ice":"Fast Ice","coh":0.75,"freq":0.95},{"region":"Beaufort","month":"Apr","ice":"Fast Ice","coh":0.8,"freq":1.2},{"region":"Beaufort","month":"Apr","ice":"Fast Ice","coh":0.85,"freq":1.5},{"region":"Beaufort","month":"Apr","ice":"Fast Ice","coh":0.9,"freq":1.85},{"region":"Beaufort","month":"Apr","ice":"Fast Ice","coh":0.93,"freq":2.25},{"region":"Beaufort","month":"Apr","ice":"Fast Ice","coh":0.95,"freq":2.7},{"region":"Beaufort","month":"Apr","ice":"Fast Ice","coh":0.965,"freq":2.92},{"region":"Beaufort","month":"Apr","ice":"Fast Ice","coh":0.975,"freq":2.75},{"region":"Beaufort","month":"Apr","ice":"Fast Ice","coh":0.985,"freq":2.2},{"region":"Beaufort","month":"Apr","ice":"Fast Ice","coh":0.995,"freq":1.52},
{"region":"Beaufort","month":"May","ice":"Fast Ice","coh":0.08,"freq":0.02},{"region":"Beaufort","month":"May","ice":"Fast Ice","coh":0.1,"freq":0.05},{"region":"Beaufort","month":"May","ice":"Fast Ice","coh":0.13,"freq":0.35},{"region":"Beaufort","month":"May","ice":"Fast Ice","coh":0.16,"freq":0.7},{"region":"Beaufort","month":"May","ice":"Fast Ice","coh":0.19,"freq":0.95},{"region":"Beaufort","month":"May","ice":"Fast Ice","coh":0.2,"freq":0.97},{"region":"Beaufort","month":"May","ice":"Fast Ice","coh":0.22,"freq":0.9},{"region":"Beaufort","month":"May","ice":"Fast Ice","coh":0.25,"freq":0.78},{"region":"Beaufort","month":"May","ice":"Fast Ice","coh":0.3,"freq":0.65},{"region":"Beaufort","month":"May","ice":"Fast Ice","coh":0.35,"freq":0.6},{"region":"Beaufort","month":"May","ice":"Fast Ice","coh":0.4,"freq":0.62},{"region":"Beaufort","month":"May","ice":"Fast Ice","coh":0.5,"freq":0.72},{"region":"Beaufort","month":"May","ice":"Fast Ice","coh":0.6,"freq":0.95},{"region":"Beaufort","month":"May","ice":"Fast Ice","coh":0.7,"freq":1.25},{"region":"Beaufort","month":"May","ice":"Fast Ice","coh":0.8,"freq":1.62},{"region":"Beaufort","month":"May","ice":"Fast Ice","coh":0.85,"freq":1.88},{"region":"Beaufort","month":"May","ice":"Fast Ice","coh":0.88,"freq":2.15},{"region":"Beaufort","month":"May","ice":"Fast Ice","coh":0.9,"freq":2.4},{"region":"Beaufort","month":"May","ice":"Fast Ice","coh":0.92,"freq":2.58},{"region":"Beaufort","month":"May","ice":"Fast Ice","coh":0.935,"freq":2.5},{"region":"Beaufort","month":"May","ice":"Fast Ice","coh":0.95,"freq":2.1},{"region":"Beaufort","month":"May","ice":"Fast Ice","coh":0.965,"freq":1.3},{"region":"Beaufort","month":"May","ice":"Fast Ice","coh":0.98,"freq":0.6},{"region":"Beaufort","month":"May","ice":"Fast Ice","coh":0.995,"freq":0.3},
{"region":"Beaufort","month":"Jun","ice":"Fast Ice","coh":0,"freq":0.02},{"region":"Beaufort","month":"Jun","ice":"Fast Ice","coh":0.05,"freq":0.1},{"region":"Beaufort","month":"Jun","ice":"Fast Ice","coh":0.08,"freq":0.2},{"region":"Beaufort","month":"Jun","ice":"Fast Ice","coh":0.1,"freq":0.45},{"region":"Beaufort","month":"Jun","ice":"Fast Ice","coh":0.115,"freq":1.2},{"region":"Beaufort","month":"Jun","ice":"Fast Ice","coh":0.13,"freq":2.55},{"region":"Beaufort","month":"Jun","ice":"Fast Ice","coh":0.145,"freq":4.23},{"region":"Beaufort","month":"Jun","ice":"Fast Ice","coh":0.16,"freq":5.83},{"region":"Beaufort","month":"Jun","ice":"Fast Ice","coh":0.175,"freq":7.27},{"region":"Beaufort","month":"Jun","ice":"Fast Ice","coh":0.19,"freq":8.2},{"region":"Beaufort","month":"Jun","ice":"Fast Ice","coh":0.2,"freq":8.45},{"region":"Beaufort","month":"Jun","ice":"Fast Ice","coh":0.21,"freq":8.2},{"region":"Beaufort","month":"Jun","ice":"Fast Ice","coh":0.225,"freq":7.27},{"region":"Beaufort","month":"Jun","ice":"Fast Ice","coh":0.24,"freq":6.0},{"region":"Beaufort","month":"Jun","ice":"Fast Ice","coh":0.255,"freq":4.73},{"region":"Beaufort","month":"Jun","ice":"Fast Ice","coh":0.27,"freq":3.55},{"region":"Beaufort","month":"Jun","ice":"Fast Ice","coh":0.285,"freq":2.45},{"region":"Beaufort","month":"Jun","ice":"Fast Ice","coh":0.3,"freq":1.6},{"region":"Beaufort","month":"Jun","ice":"Fast Ice","coh":0.315,"freq":1.0},{"region":"Beaufort","month":"Jun","ice":"Fast Ice","coh":0.33,"freq":0.6},{"region":"Beaufort","month":"Jun","ice":"Fast Ice","coh":0.35,"freq":0.35},{"region":"Beaufort","month":"Jun","ice":"Fast Ice","coh":0.4,"freq":0.15},{"region":"Beaufort","month":"Jun","ice":"Fast Ice","coh":0.5,"freq":0.08},{"region":"Beaufort","month":"Jun","ice":"Fast Ice","coh":0.6,"freq":0.06},{"region":"Beaufort","month":"Jun","ice":"Fast Ice","coh":0.7,"freq":0.05},{"region":"Beaufort","month":"Jun","ice":"Fast Ice","coh":0.8,"freq":0.05},{"region":"Beaufort","month":"Jun","ice":"Fast Ice","coh":0.9,"freq":0.04},{"region":"Beaufort","month":"Jun","ice":"Fast Ice","coh":0.95,"freq":0.03},
{"region":"Beaufort","month":"Dec","ice":"Not Fast Ice","coh":0,"freq":0.06},{"region":"Beaufort","month":"Dec","ice":"Not Fast Ice","coh":0.05,"freq":0.09},{"region":"Beaufort","month":"Dec","ice":"Not Fast Ice","coh":0.08,"freq":0.15},{"region":"Beaufort","month":"Dec","ice":"Not Fast Ice","coh":0.1,"freq":0.36},{"region":"Beaufort","month":"Dec","ice":"Not Fast Ice","coh":0.115,"freq":1.02},{"region":"Beaufort","month":"Dec","ice":"Not Fast Ice","coh":0.13,"freq":2.18},{"region":"Beaufort","month":"Dec","ice":"Not Fast Ice","coh":0.145,"freq":3.63},{"region":"Beaufort","month":"Dec","ice":"Not Fast Ice","coh":0.16,"freq":5.0},{"region":"Beaufort","month":"Dec","ice":"Not Fast Ice","coh":0.175,"freq":6.24},{"region":"Beaufort","month":"Dec","ice":"Not Fast Ice","coh":0.19,"freq":7.03},{"region":"Beaufort","month":"Dec","ice":"Not Fast Ice","coh":0.2,"freq":7.25},{"region":"Beaufort","month":"Dec","ice":"Not Fast Ice","coh":0.21,"freq":7.03},{"region":"Beaufort","month":"Dec","ice":"Not Fast Ice","coh":0.225,"freq":6.24},{"region":"Beaufort","month":"Dec","ice":"Not Fast Ice","coh":0.24,"freq":5.15},{"region":"Beaufort","month":"Dec","ice":"Not Fast Ice","coh":0.255,"freq":4.06},{"region":"Beaufort","month":"Dec","ice":"Not Fast Ice","coh":0.27,"freq":3.05},{"region":"Beaufort","month":"Dec","ice":"Not Fast Ice","coh":0.285,"freq":2.15},{"region":"Beaufort","month":"Dec","ice":"Not Fast Ice","coh":0.3,"freq":1.45},{"region":"Beaufort","month":"Dec","ice":"Not Fast Ice","coh":0.315,"freq":1.0},{"region":"Beaufort","month":"Dec","ice":"Not Fast Ice","coh":0.33,"freq":0.72},{"region":"Beaufort","month":"Dec","ice":"Not Fast Ice","coh":0.35,"freq":0.55},{"region":"Beaufort","month":"Dec","ice":"Not Fast Ice","coh":0.4,"freq":0.35},{"region":"Beaufort","month":"Dec","ice":"Not Fast Ice","coh":0.5,"freq":0.25},{"region":"Beaufort","month":"Dec","ice":"Not Fast Ice","coh":0.6,"freq":0.2},{"region":"Beaufort","month":"Dec","ice":"Not Fast Ice","coh":0.7,"freq":0.15},{"region":"Beaufort","month":"Dec","ice":"Not Fast Ice","coh":0.8,"freq":0.1},{"region":"Beaufort","month":"Dec","ice":"Not Fast Ice","coh":0.9,"freq":0.05},{"region":"Beaufort","month":"Dec","ice":"Not Fast Ice","coh":0.96,"freq":0.02},
{"region":"Beaufort","month":"Jan","ice":"Not Fast Ice","coh":0,"freq":0.05},{"region":"Beaufort","month":"Jan","ice":"Not Fast Ice","coh":0.05,"freq":0.08},{"region":"Beaufort","month":"Jan","ice":"Not Fast Ice","coh":0.08,"freq":0.13},{"region":"Beaufort","month":"Jan","ice":"Not Fast Ice","coh":0.1,"freq":0.33},{"region":"Beaufort","month":"Jan","ice":"Not Fast Ice","coh":0.115,"freq":0.93},{"region":"Beaufort","month":"Jan","ice":"Not Fast Ice","coh":0.13,"freq":2.0},{"region":"Beaufort","month":"Jan","ice":"Not Fast Ice","coh":0.145,"freq":3.33},{"region":"Beaufort","month":"Jan","ice":"Not Fast Ice","coh":0.16,"freq":4.59},{"region":"Beaufort","month":"Jan","ice":"Not Fast Ice","coh":0.175,"freq":5.72},{"region":"Beaufort","month":"Jan","ice":"Not Fast Ice","coh":0.19,"freq":6.45},{"region":"Beaufort","month":"Jan","ice":"Not Fast Ice","coh":0.2,"freq":6.65},{"region":"Beaufort","month":"Jan","ice":"Not Fast Ice","coh":0.21,"freq":6.45},{"region":"Beaufort","month":"Jan","ice":"Not Fast Ice","coh":0.225,"freq":5.72},{"region":"Beaufort","month":"Jan","ice":"Not Fast Ice","coh":0.24,"freq":4.72},{"region":"Beaufort","month":"Jan","ice":"Not Fast Ice","coh":0.255,"freq":3.72},{"region":"Beaufort","month":"Jan","ice":"Not Fast Ice","coh":0.27,"freq":2.79},{"region":"Beaufort","month":"Jan","ice":"Not Fast Ice","coh":0.285,"freq":2.05},{"region":"Beaufort","month":"Jan","ice":"Not Fast Ice","coh":0.3,"freq":1.5},{"region":"Beaufort","month":"Jan","ice":"Not Fast Ice","coh":0.315,"freq":1.1},{"region":"Beaufort","month":"Jan","ice":"Not Fast Ice","coh":0.33,"freq":0.85},{"region":"Beaufort","month":"Jan","ice":"Not Fast Ice","coh":0.35,"freq":0.65},{"region":"Beaufort","month":"Jan","ice":"Not Fast Ice","coh":0.4,"freq":0.5},{"region":"Beaufort","month":"Jan","ice":"Not Fast Ice","coh":0.5,"freq":0.5},{"region":"Beaufort","month":"Jan","ice":"Not Fast Ice","coh":0.6,"freq":0.45},{"region":"Beaufort","month":"Jan","ice":"Not Fast Ice","coh":0.7,"freq":0.45},{"region":"Beaufort","month":"Jan","ice":"Not Fast Ice","coh":0.8,"freq":0.45},{"region":"Beaufort","month":"Jan","ice":"Not Fast Ice","coh":0.9,"freq":0.2},{"region":"Beaufort","month":"Jan","ice":"Not Fast Ice","coh":0.96,"freq":0.08},
{"region":"Beaufort","month":"Feb","ice":"Not Fast Ice","coh":0,"freq":0.05},{"region":"Beaufort","month":"Feb","ice":"Not Fast Ice","coh":0.05,"freq":0.07},{"region":"Beaufort","month":"Feb","ice":"Not Fast Ice","coh":0.08,"freq":0.12},{"region":"Beaufort","month":"Feb","ice":"Not Fast Ice","coh":0.1,"freq":0.29},{"region":"Beaufort","month":"Feb","ice":"Not Fast Ice","coh":0.115,"freq":0.81},{"region":"Beaufort","month":"Feb","ice":"Not Fast Ice","coh":0.13,"freq":1.74},{"region":"Beaufort","month":"Feb","ice":"Not Fast Ice","coh":0.145,"freq":2.9},{"region":"Beaufort","month":"Feb","ice":"Not Fast Ice","coh":0.16,"freq":4.0},{"region":"Beaufort","month":"Feb","ice":"Not Fast Ice","coh":0.175,"freq":4.99},{"region":"Beaufort","month":"Feb","ice":"Not Fast Ice","coh":0.19,"freq":5.63},{"region":"Beaufort","month":"Feb","ice":"Not Fast Ice","coh":0.2,"freq":5.8},{"region":"Beaufort","month":"Feb","ice":"Not Fast Ice","coh":0.21,"freq":5.63},{"region":"Beaufort","month":"Feb","ice":"Not Fast Ice","coh":0.225,"freq":4.99},{"region":"Beaufort","month":"Feb","ice":"Not Fast Ice","coh":0.24,"freq":4.12},{"region":"Beaufort","month":"Feb","ice":"Not Fast Ice","coh":0.255,"freq":3.25},{"region":"Beaufort","month":"Feb","ice":"Not Fast Ice","coh":0.27,"freq":2.44},{"region":"Beaufort","month":"Feb","ice":"Not Fast Ice","coh":0.285,"freq":1.75},{"region":"Beaufort","month":"Feb","ice":"Not Fast Ice","coh":0.3,"freq":1.3},{"region":"Beaufort","month":"Feb","ice":"Not Fast Ice","coh":0.315,"freq":0.95},{"region":"Beaufort","month":"Feb","ice":"Not Fast Ice","coh":0.33,"freq":0.72},{"region":"Beaufort","month":"Feb","ice":"Not Fast Ice","coh":0.35,"freq":0.55},{"region":"Beaufort","month":"Feb","ice":"Not Fast Ice","coh":0.4,"freq":0.4},{"region":"Beaufort","month":"Feb","ice":"Not Fast Ice","coh":0.5,"freq":0.35},{"region":"Beaufort","month":"Feb","ice":"Not Fast Ice","coh":0.6,"freq":0.3},{"region":"Beaufort","month":"Feb","ice":"Not Fast Ice","coh":0.7,"freq":0.25},{"region":"Beaufort","month":"Feb","ice":"Not Fast Ice","coh":0.8,"freq":0.2},{"region":"Beaufort","month":"Feb","ice":"Not Fast Ice","coh":0.9,"freq":0.1},{"region":"Beaufort","month":"Feb","ice":"Not Fast Ice","coh":0.96,"freq":0.05},
{"region":"Beaufort","month":"Mar","ice":"Not Fast Ice","coh":0,"freq":0.04},{"region":"Beaufort","month":"Mar","ice":"Not Fast Ice","coh":0.05,"freq":0.07},{"region":"Beaufort","month":"Mar","ice":"Not Fast Ice","coh":0.08,"freq":0.11},{"region":"Beaufort","month":"Mar","ice":"Not Fast Ice","coh":0.1,"freq":0.28},{"region":"Beaufort","month":"Mar","ice":"Not Fast Ice","coh":0.115,"freq":0.78},{"region":"Beaufort","month":"Mar","ice":"Not Fast Ice","coh":0.13,"freq":1.68},{"region":"Beaufort","month":"Mar","ice":"Not Fast Ice","coh":0.145,"freq":2.8},{"region":"Beaufort","month":"Mar","ice":"Not Fast Ice","coh":0.16,"freq":3.86},{"region":"Beaufort","month":"Mar","ice":"Not Fast Ice","coh":0.175,"freq":4.82},{"region":"Beaufort","month":"Mar","ice":"Not Fast Ice","coh":0.19,"freq":5.43},{"region":"Beaufort","month":"Mar","ice":"Not Fast Ice","coh":0.2,"freq":5.6},{"region":"Beaufort","month":"Mar","ice":"Not Fast Ice","coh":0.21,"freq":5.43},{"region":"Beaufort","month":"Mar","ice":"Not Fast Ice","coh":0.225,"freq":4.82},{"region":"Beaufort","month":"Mar","ice":"Not Fast Ice","coh":0.24,"freq":3.98},{"region":"Beaufort","month":"Mar","ice":"Not Fast Ice","coh":0.255,"freq":3.14},{"region":"Beaufort","month":"Mar","ice":"Not Fast Ice","coh":0.27,"freq":2.35},{"region":"Beaufort","month":"Mar","ice":"Not Fast Ice","coh":0.285,"freq":1.75},{"region":"Beaufort","month":"Mar","ice":"Not Fast Ice","coh":0.3,"freq":1.35},{"region":"Beaufort","month":"Mar","ice":"Not Fast Ice","coh":0.315,"freq":1.05},{"region":"Beaufort","month":"Mar","ice":"Not Fast Ice","coh":0.33,"freq":0.85},{"region":"Beaufort","month":"Mar","ice":"Not Fast Ice","coh":0.35,"freq":0.7},{"region":"Beaufort","month":"Mar","ice":"Not Fast Ice","coh":0.4,"freq":0.55},{"region":"Beaufort","month":"Mar","ice":"Not Fast Ice","coh":0.5,"freq":0.55},{"region":"Beaufort","month":"Mar","ice":"Not Fast Ice","coh":0.6,"freq":0.5},{"region":"Beaufort","month":"Mar","ice":"Not Fast Ice","coh":0.7,"freq":0.45},{"region":"Beaufort","month":"Mar","ice":"Not Fast Ice","coh":0.8,"freq":0.4},{"region":"Beaufort","month":"Mar","ice":"Not Fast Ice","coh":0.9,"freq":0.25},{"region":"Beaufort","month":"Mar","ice":"Not Fast Ice","coh":0.96,"freq":0.1},
{"region":"Beaufort","month":"Apr","ice":"Not Fast Ice","coh":0,"freq":0.06},{"region":"Beaufort","month":"Apr","ice":"Not Fast Ice","coh":0.05,"freq":0.09},{"region":"Beaufort","month":"Apr","ice":"Not Fast Ice","coh":0.08,"freq":0.15},{"region":"Beaufort","month":"Apr","ice":"Not Fast Ice","coh":0.1,"freq":0.38},{"region":"Beaufort","month":"Apr","ice":"Not Fast Ice","coh":0.115,"freq":1.05},{"region":"Beaufort","month":"Apr","ice":"Not Fast Ice","coh":0.13,"freq":2.25},{"region":"Beaufort","month":"Apr","ice":"Not Fast Ice","coh":0.145,"freq":3.75},{"region":"Beaufort","month":"Apr","ice":"Not Fast Ice","coh":0.16,"freq":5.18},{"region":"Beaufort","month":"Apr","ice":"Not Fast Ice","coh":0.175,"freq":6.45},{"region":"Beaufort","month":"Apr","ice":"Not Fast Ice","coh":0.19,"freq":7.28},{"region":"Beaufort","month":"Apr","ice":"Not Fast Ice","coh":0.2,"freq":7.5},{"region":"Beaufort","month":"Apr","ice":"Not Fast Ice","coh":0.21,"freq":7.28},{"region":"Beaufort","month":"Apr","ice":"Not Fast Ice","coh":0.225,"freq":6.45},{"region":"Beaufort","month":"Apr","ice":"Not Fast Ice","coh":0.24,"freq":5.33},{"region":"Beaufort","month":"Apr","ice":"Not Fast Ice","coh":0.255,"freq":4.2},{"region":"Beaufort","month":"Apr","ice":"Not Fast Ice","coh":0.27,"freq":3.15},{"region":"Beaufort","month":"Apr","ice":"Not Fast Ice","coh":0.285,"freq":2.2},{"region":"Beaufort","month":"Apr","ice":"Not Fast Ice","coh":0.3,"freq":1.45},{"region":"Beaufort","month":"Apr","ice":"Not Fast Ice","coh":0.315,"freq":0.95},{"region":"Beaufort","month":"Apr","ice":"Not Fast Ice","coh":0.33,"freq":0.62},{"region":"Beaufort","month":"Apr","ice":"Not Fast Ice","coh":0.35,"freq":0.42},{"region":"Beaufort","month":"Apr","ice":"Not Fast Ice","coh":0.4,"freq":0.22},{"region":"Beaufort","month":"Apr","ice":"Not Fast Ice","coh":0.5,"freq":0.15},{"region":"Beaufort","month":"Apr","ice":"Not Fast Ice","coh":0.6,"freq":0.12},{"region":"Beaufort","month":"Apr","ice":"Not Fast Ice","coh":0.7,"freq":0.1},{"region":"Beaufort","month":"Apr","ice":"Not Fast Ice","coh":0.8,"freq":0.08},{"region":"Beaufort","month":"Apr","ice":"Not Fast Ice","coh":0.9,"freq":0.05},{"region":"Beaufort","month":"Apr","ice":"Not Fast Ice","coh":0.96,"freq":0.02},
{"region":"Beaufort","month":"May","ice":"Not Fast Ice","coh":0,"freq":0.05},{"region":"Beaufort","month":"May","ice":"Not Fast Ice","coh":0.05,"freq":0.08},{"region":"Beaufort","month":"May","ice":"Not Fast Ice","coh":0.08,"freq":0.13},{"region":"Beaufort","month":"May","ice":"Not Fast Ice","coh":0.1,"freq":0.32},{"region":"Beaufort","month":"May","ice":"Not Fast Ice","coh":0.115,"freq":0.9},{"region":"Beaufort","month":"May","ice":"Not Fast Ice","coh":0.13,"freq":1.92},{"region":"Beaufort","month":"May","ice":"Not Fast Ice","coh":0.145,"freq":3.2},{"region":"Beaufort","month":"May","ice":"Not Fast Ice","coh":0.16,"freq":4.42},{"region":"Beaufort","month":"May","ice":"Not Fast Ice","coh":0.175,"freq":5.5},{"region":"Beaufort","month":"May","ice":"Not Fast Ice","coh":0.19,"freq":6.21},{"region":"Beaufort","month":"May","ice":"Not Fast Ice","coh":0.2,"freq":6.4},{"region":"Beaufort","month":"May","ice":"Not Fast Ice","coh":0.21,"freq":6.21},{"region":"Beaufort","month":"May","ice":"Not Fast Ice","coh":0.225,"freq":5.5},{"region":"Beaufort","month":"May","ice":"Not Fast Ice","coh":0.24,"freq":4.54},{"region":"Beaufort","month":"May","ice":"Not Fast Ice","coh":0.255,"freq":3.58},{"region":"Beaufort","month":"May","ice":"Not Fast Ice","coh":0.27,"freq":2.69},{"region":"Beaufort","month":"May","ice":"Not Fast Ice","coh":0.285,"freq":1.95},{"region":"Beaufort","month":"May","ice":"Not Fast Ice","coh":0.3,"freq":1.45},{"region":"Beaufort","month":"May","ice":"Not Fast Ice","coh":0.315,"freq":1.08},{"region":"Beaufort","month":"May","ice":"Not Fast Ice","coh":0.33,"freq":0.82},{"region":"Beaufort","month":"May","ice":"Not Fast Ice","coh":0.35,"freq":0.62},{"region":"Beaufort","month":"May","ice":"Not Fast Ice","coh":0.4,"freq":0.45},{"region":"Beaufort","month":"May","ice":"Not Fast Ice","coh":0.5,"freq":0.4},{"region":"Beaufort","month":"May","ice":"Not Fast Ice","coh":0.6,"freq":0.38},{"region":"Beaufort","month":"May","ice":"Not Fast Ice","coh":0.7,"freq":0.35},{"region":"Beaufort","month":"May","ice":"Not Fast Ice","coh":0.8,"freq":0.35},{"region":"Beaufort","month":"May","ice":"Not Fast Ice","coh":0.9,"freq":0.2},{"region":"Beaufort","month":"May","ice":"Not Fast Ice","coh":0.96,"freq":0.08},
{"region":"Beaufort","month":"Jun","ice":"Not Fast Ice","coh":0,"freq":0.04},{"region":"Beaufort","month":"Jun","ice":"Not Fast Ice","coh":0.05,"freq":0.07},{"region":"Beaufort","month":"Jun","ice":"Not Fast Ice","coh":0.08,"freq":0.11},{"region":"Beaufort","month":"Jun","ice":"Not Fast Ice","coh":0.1,"freq":0.28},{"region":"Beaufort","month":"Jun","ice":"Not Fast Ice","coh":0.115,"freq":0.77},{"region":"Beaufort","month":"Jun","ice":"Not Fast Ice","coh":0.13,"freq":1.65},{"region":"Beaufort","month":"Jun","ice":"Not Fast Ice","coh":0.145,"freq":2.75},{"region":"Beaufort","month":"Jun","ice":"Not Fast Ice","coh":0.16,"freq":3.8},{"region":"Beaufort","month":"Jun","ice":"Not Fast Ice","coh":0.175,"freq":4.73},{"region":"Beaufort","month":"Jun","ice":"Not Fast Ice","coh":0.19,"freq":5.34},{"region":"Beaufort","month":"Jun","ice":"Not Fast Ice","coh":0.2,"freq":5.5},{"region":"Beaufort","month":"Jun","ice":"Not Fast Ice","coh":0.21,"freq":5.34},{"region":"Beaufort","month":"Jun","ice":"Not Fast Ice","coh":0.225,"freq":4.73},{"region":"Beaufort","month":"Jun","ice":"Not Fast Ice","coh":0.24,"freq":3.9},{"region":"Beaufort","month":"Jun","ice":"Not Fast Ice","coh":0.255,"freq":3.08},{"region":"Beaufort","month":"Jun","ice":"Not Fast Ice","coh":0.27,"freq":2.31},{"region":"Beaufort","month":"Jun","ice":"Not Fast Ice","coh":0.285,"freq":1.65},{"region":"Beaufort","month":"Jun","ice":"Not Fast Ice","coh":0.3,"freq":1.2},{"region":"Beaufort","month":"Jun","ice":"Not Fast Ice","coh":0.315,"freq":0.85},{"region":"Beaufort","month":"Jun","ice":"Not Fast Ice","coh":0.33,"freq":0.62},{"region":"Beaufort","month":"Jun","ice":"Not Fast Ice","coh":0.35,"freq":0.45},{"region":"Beaufort","month":"Jun","ice":"Not Fast Ice","coh":0.4,"freq":0.3},{"region":"Beaufort","month":"Jun","ice":"Not Fast Ice","coh":0.5,"freq":0.3},{"region":"Beaufort","month":"Jun","ice":"Not Fast Ice","coh":0.6,"freq":0.25},{"region":"Beaufort","month":"Jun","ice":"Not Fast Ice","coh":0.7,"freq":0.2},{"region":"Beaufort","month":"Jun","ice":"Not Fast Ice","coh":0.8,"freq":0.15},{"region":"Beaufort","month":"Jun","ice":"Not Fast Ice","coh":0.9,"freq":0.08},{"region":"Beaufort","month":"Jun","ice":"Not Fast Ice","coh":0.96,"freq":0.03}
]},
"vconcat": [
 {"title": "Chukchi Region", "width": 628, "height": 197.6,
  "transform": [{"filter": "datum.region === 'Chukchi'"}],
  "mark": {"type": "line", "strokeWidth": 1.5, "interpolate": "monotone"},
  "encoding": {
   "x": {"field": "coh", "type": "quantitative", "scale": {"domain": [-0.0515, 1.031], "nice": false, "zero": false}, "axis": {"values": [0, 0.2, 0.4, 0.6, 0.8, 1.0], "labels": false, "title": null}},
   "y": {"field": "freq", "type": "quantitative", "scale": {"domain": [-0.433, 9.09], "nice": false, "zero": false}, "axis": {"values": [0, 2, 4, 6, 8], "format": "d", "title": "Frequency (%)", "titlePadding": 6}},
   "color": {"field": "month", "type": "nominal", "title": "Month", "scale": {"domain": ["Dec", "Jan", "Feb", "Mar", "Apr", "May", "Jun"], "range": ["#0173b2", "#de8f05", "#029e73", "#d55e00", "#cc78bc", "#ca9161", "#fbafe4"]}, "legend": {"columns": 7, "gridAlign": "all", "columnPadding": 9}},
   "strokeDash": {"field": "ice", "type": "nominal", "title": "Ice Type", "scale": {"domain": ["Fast Ice", "Not Fast Ice"], "range": [[1, 0], [5, 2.5]]}, "legend": {"columns": 2, "gridAlign": "each", "columnPadding": 6, "symbolStrokeColor": "#333333"}}
  }
 },
 {"title": "Beaufort Region", "width": 628, "height": 197.6,
  "transform": [{"filter": "datum.region === 'Beaufort'"}],
  "mark": {"type": "line", "strokeWidth": 1.5, "interpolate": "monotone"},
  "encoding": {
   "x": {"field": "coh", "type": "quantitative", "scale": {"domain": [-0.0515, 1.031], "nice": false, "zero": false}, "axis": {"values": [0, 0.2, 0.4, 0.6, 0.8, 1.0], "format": ".1f", "title": "Interferometric Coherence", "titlePadding": 1}},
   "y": {"field": "freq", "type": "quantitative", "scale": {"domain": [-0.433, 9.09], "nice": false, "zero": false}, "axis": {"values": [0, 2, 4, 6, 8], "format": "d", "title": "Frequency (%)", "titlePadding": 6}},
   "color": {"field": "month", "type": "nominal", "title": "Month", "scale": {"domain": ["Dec", "Jan", "Feb", "Mar", "Apr", "May", "Jun"], "range": ["#0173b2", "#de8f05", "#029e73", "#d55e00", "#cc78bc", "#ca9161", "#fbafe4"]}, "legend": {"columns": 7, "gridAlign": "all", "columnPadding": 9}},
   "strokeDash": {"field": "ice", "type": "nominal", "title": "Ice Type", "scale": {"domain": ["Fast Ice", "Not Fast Ice"], "range": [[1, 0], [5, 2.5]]}, "legend": {"columns": 2, "gridAlign": "each", "columnPadding": 6, "symbolStrokeColor": "#333333"}}
  }
 }
]
}
